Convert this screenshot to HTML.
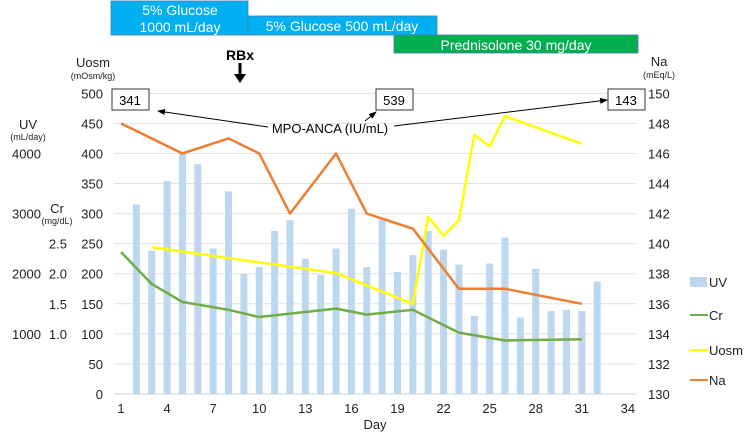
<!DOCTYPE html>
<html><head><meta charset="utf-8"><style>
body{margin:0;background:#fff;font-family:"Liberation Sans",sans-serif}
svg text{font-family:"Liberation Sans",sans-serif}
</style></head><body>
<svg width="751" height="433" xmlns="http://www.w3.org/2000/svg">
<defs><marker id="ah" markerWidth="8" markerHeight="6" refX="7" refY="3" orient="auto"><path d="M0,0L8,3L0,6z" fill="#000"/></marker></defs>
<g>
<rect x="111" y="1" width="137" height="34" fill="#00b0f0" stroke="#4a7ab0" stroke-width="0.8"/>
<text x="180" y="15" text-anchor="middle" font-size="14" fill="#fff">5% Glucose</text>
<text x="180" y="32" text-anchor="middle" font-size="14" fill="#fff">1000 mL/day</text>
<rect x="248" y="16" width="189" height="19" fill="#00b0f0" stroke="#4a7ab0" stroke-width="0.8"/>
<text x="342" y="31" text-anchor="middle" font-size="14" fill="#fff">5% Glucose 500 mL/day</text>
<rect x="394" y="35" width="244" height="18" fill="#00b050" stroke="#4a7ab0" stroke-width="0.8"/>
<text x="516" y="50" text-anchor="middle" font-size="14" fill="#fff">Prednisolone 30 mg/day</text>
</g>
<text x="240" y="60" text-anchor="middle" font-size="14" font-weight="bold">RBx</text>
<g>
<line x1="240" y1="63" x2="240" y2="75" stroke="#000" stroke-width="3"/>
<polygon points="234,74 246,74 240,83" fill="#000"/>
</g>
<g id="grid"></g><g id="bars"></g><g id="lines"></g><g id="axes" font-size="13" fill="#222"></g>
<g fill="#222">
<text x="93" y="67" text-anchor="middle" font-size="13">Uosm</text>
<text x="93" y="79" text-anchor="middle" font-size="9">(mOsm/kg)</text>
<text x="28" y="129" text-anchor="middle" font-size="13">UV</text>
<text x="28" y="140" text-anchor="middle" font-size="9">(mL/day)</text>
<text x="57" y="213" text-anchor="middle" font-size="13">Cr</text>
<text x="57" y="224" text-anchor="middle" font-size="9">(mg/dL)</text>
<text x="659" y="66" text-anchor="middle" font-size="13">Na</text>
<text x="659" y="78" text-anchor="middle" font-size="9">(mEq/L)</text>
<text x="375" y="429" text-anchor="middle" font-size="13">Day</text>
</g>
<g>
<rect x="112" y="89" width="37" height="21" fill="#fff" stroke="#333"/><text x="130" y="105" text-anchor="middle" font-size="13">341</text>
<rect x="376" y="89" width="37" height="21" fill="#fff" stroke="#333"/><text x="394" y="105" text-anchor="middle" font-size="13">539</text>
<rect x="608" y="89" width="37" height="21" fill="#fff" stroke="#333"/><text x="626" y="105" text-anchor="middle" font-size="13">143</text>
<text x="330" y="133" text-anchor="middle" font-size="13">MPO-ANCA (IU/mL)</text>
<line x1="268" y1="127" x2="158" y2="111" stroke="#000" stroke-width="1" marker-end="url(#ah)"/>
<line x1="365" y1="121" x2="376" y2="112" stroke="#000" stroke-width="1" marker-end="url(#ah)"/>
<line x1="394" y1="126" x2="607" y2="100" stroke="#000" stroke-width="1" marker-end="url(#ah)"/>
</g>
<g font-size="13" fill="#222">
<rect x="690" y="277" width="17" height="10" fill="#bdd7ee"/><text x="709" y="287">UV</text>
<line x1="690" y1="315" x2="708" y2="315" stroke="#70ad47" stroke-width="2"/><text x="709" y="320">Cr</text>
<line x1="690" y1="350" x2="708" y2="350" stroke="#ffff00" stroke-width="2"/><text x="709" y="355">Uosm</text>
<line x1="690" y1="380" x2="708" y2="380" stroke="#ed7d31" stroke-width="2"/><text x="709" y="385">Na</text>
</g>
</svg>
<script>
const barDays=[2,3,4,5,6,7,8,9,10,11,12,13,14,15,16,17,18,19,20,21,22,23,24,25,26,27,28,29,30,31,32];
const uvValues=[3150,2380,3540,4000,3820,2420,3370,2000,2110,2710,2890,2250,1980,2420,3080,2110,2900,2030,2310,2710,2400,2150,1300,2170,2600,1270,2080,1380,1400,1380,1870];
const crDays=[1,3,5,8,10,15,17,20,23,26,31];
const crValues=[2.36,1.83,1.53,1.40,1.28,1.42,1.32,1.40,1.02,0.89,0.91];
const uosmDays=[3,15,20,21,22,23,24,25,26,31];
const uosmValues=[244,201,150,295,263,289,431,412,462,416];
const naDays=[1,5,8,10,12,15,17,20,23,26,31];
const naValues=[148,146,147,146,142,146,142,141,137,137,136];
const xTicks=[1,4,7,10,13,16,19,22,25,28,31,34];
const uosmTicks=[0,50,100,150,200,250,300,350,400,450,500];
const naTicks=[130,132,134,136,138,140,142,144,146,148,150];
const uvTicks=[1000,2000,3000,4000];
const crTicks=[1.0,1.5,2.0,2.5];
const NS="http://www.w3.org/2000/svg";
const X=d=>121+(d-1)*15.36;
const Y=v=>394-v*0.6013;
const Yna=v=>394-(v-130)*15.033;
const Yuv=v=>Y(v/10);
const Ycr=v=>Y(v*100);
function mk(t,a,p){const e=document.createElementNS(NS,t);for(const k in a)e.setAttribute(k,a[k]);p.appendChild(e);return e;}
const grid=document.getElementById('grid'),bars=document.getElementById('bars'),lines=document.getElementById('lines'),axes=document.getElementById('axes');
uosmTicks.forEach(v=>{const l=mk('line',{x1:114,x2:636,y1:Y(v),y2:Y(v),stroke:v===0?'#d0d0d0':'#e2e2e2','stroke-width':1},grid);


const t=mk('text',{x:103,y:Y(v)+5,'text-anchor':'end'},axes);t.textContent=v;

});
naTicks.forEach(v=>{const t=mk('text',{x:648,y:Yna(v)+5},axes);t.textContent=v;

});
uvTicks.forEach(v=>{const t=mk('text',{x:12,y:Yuv(v)+5},axes);t.textContent=v;

});
crTicks.forEach(v=>{const t=mk('text',{x:67,y:Ycr(v)+5,'text-anchor':'end'},axes);t.textContent=v.toFixed(1);

});
xTicks.forEach(d=>{const t=mk('text',{x:X(d),y:413,'text-anchor':'middle'},axes);t.textContent=d;

});
barDays.forEach((d,i)=>{const r=mk('rect',{x:X(d)-3.5,y:Yuv(uvValues[i]),width:7,height:394-Yuv(uvValues[i]),fill:'#bdd7ee'},bars);

});
function line(days,vals,fy,col,name){const p=mk('polyline',{points:days.map((d,i)=>X(d)+','+fy(vals[i])).join(' '),fill:'none',stroke:col,'stroke-width':2.5,'stroke-linejoin':'round'},lines);

}
line(crDays,crValues,Ycr,'#70ad47','cr-line');
line(uosmDays,uosmValues,Y,'#ffff00','uosm-line');
line(naDays,naValues,Yna,'#ed7d31','na-line');
</script>
</body></html>
